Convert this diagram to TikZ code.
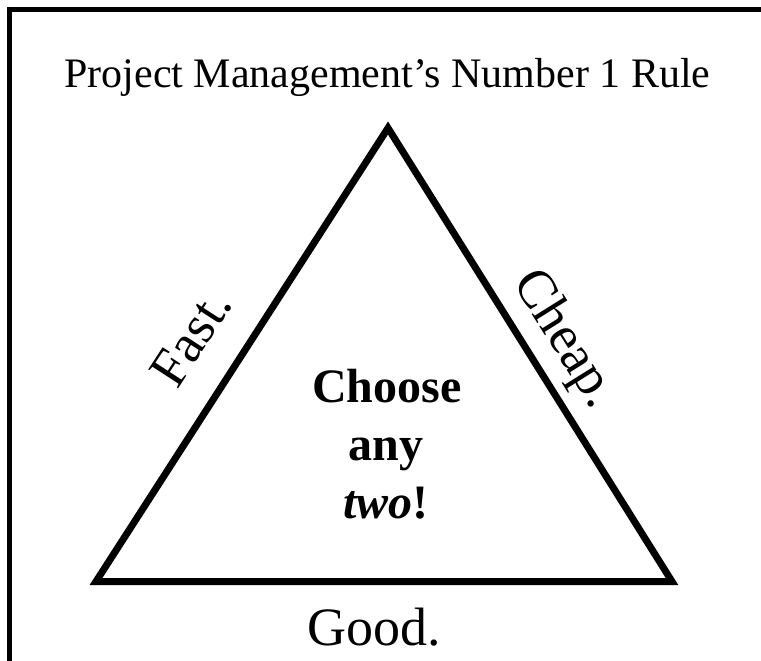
\documentclass[tikz,border=0pt]{standalone}
\usepackage{fontspec}
\setmainfont{Liberation Serif}
\begin{document}
\begin{tikzpicture}[x=1pt,y=-1pt,
  frame/.style={line width=5pt},
  tri/.style={line width=7pt,line join=miter},
  lbl/.style={inner sep=0pt,font=\fontsize{54}{60}\selectfont},
  ttl/.style={inner sep=0pt,font=\fontsize{42}{48}\selectfont},
  ctr/.style={inner sep=0pt,font=\fontsize{48}{58}\selectfont\bfseries}]
\useasboundingbox (0,0) rectangle (761,661);
\clip (0,0) rectangle (761,661);
\fill[white] (0,0) rectangle (761,661);
\draw[frame] (9.5,9.5) rectangle (900,900);
\coordinate (A) at (388,128);
\coordinate (B) at (96,581.5);
\coordinate (C) at (672,581.5);
\draw[tri] (A) -- (B) -- (C) -- cycle;
\node[ttl,anchor=base] (title) at (387.5,88) {Project Management’s Number 1 Rule};
\node[ctr,anchor=base] (choose) at (387,402) {Choose};
\node[ctr,anchor=base] (any) at (386,460) {any};
\node[ctr,anchor=base] (two) at (386,518) {\textit{two}!};
\node[lbl,anchor=base] (good) at (374,645) {Good.};
\node[lbl,rotate=57] (fast) at (191,338) {Fast.};
\node[lbl,rotate=-58] (cheap) at (564,340) {Cheap.};
\end{tikzpicture}
\end{document}
